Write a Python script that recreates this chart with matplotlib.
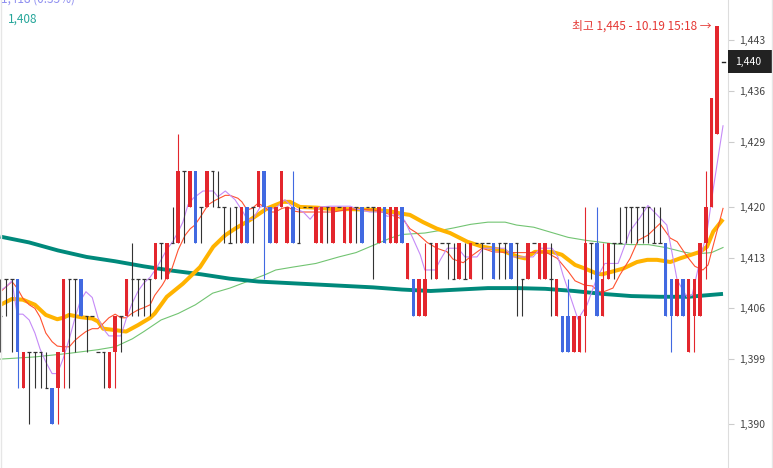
import matplotlib.pyplot as plt
from matplotlib.patches import Rectangle
from matplotlib.lines import Line2D

plt.rcParams['font.family'] = ['Noto Sans CJK KR', 'DejaVu Sans']

## Candles, one value per bar from left to right
opens = [1405, 1410, 1410, 1410, 1395, 1400, 1400, 1400, 1395, 1395,
         1395, 1400, 1410, 1410, 1410, 1405, 1405, 1400, 1400, 1395,
         1400, 1405, 1405, 1410, 1410, 1410, 1410, 1410, 1415, 1410,
         1415, 1415, 1425, 1420, 1425, 1420, 1420, 1425, 1420, 1420,
         1415, 1420, 1415, 1420, 1420, 1420, 1425, 1420, 1415, 1420,
         1415, 1420, 1415, 1420, 1420, 1415, 1415, 1420, 1415, 1420,
         1415, 1415, 1420, 1420, 1420, 1420, 1415, 1420, 1415, 1415,
         1420, 1410, 1410, 1405, 1405, 1415, 1410, 1415, 1415, 1410,
         1410, 1410, 1410, 1415, 1415, 1415, 1415, 1415, 1415, 1415,
         1415, 1410, 1410, 1415, 1410, 1410, 1410, 1405, 1405, 1405,
         1400, 1400, 1405, 1415, 1415, 1405, 1410, 1415, 1415, 1420,
         1420, 1420, 1420, 1420, 1415, 1415, 1415, 1410, 1405, 1410,
         1400, 1405, 1405, 1415, 1420, 1430]
highs = [1410, 1410, 1410, 1410, 1400, 1400, 1400, 1400, 1400, 1395,
         1400, 1410, 1410, 1410, 1410, 1405, 1405, 1400, 1400, 1400,
         1405, 1405, 1410, 1415, 1410, 1410, 1410, 1415, 1415, 1415,
         1420, 1430, 1425, 1425, 1425, 1420, 1425, 1425, 1425, 1420,
         1420, 1420, 1420, 1420, 1420, 1425, 1425, 1420, 1420, 1425,
         1420, 1425, 1420, 1420, 1420, 1420, 1420, 1420, 1420, 1420,
         1420, 1420, 1420, 1420, 1420, 1420, 1420, 1420, 1420, 1420,
         1420, 1415, 1410, 1410, 1415, 1415, 1415, 1415, 1415, 1415,
         1415, 1415, 1415, 1415, 1415, 1415, 1415, 1415, 1415, 1415,
         1415, 1410, 1415, 1415, 1415, 1415, 1415, 1410, 1405, 1410,
         1405, 1405, 1420, 1415, 1420, 1415, 1415, 1415, 1420, 1420,
         1420, 1420, 1420, 1420, 1420, 1420, 1415, 1410, 1410, 1410,
         1410, 1410, 1415, 1425, 1435, 1445]
lows = [1400, 1405, 1400, 1395, 1395, 1390, 1395, 1395, 1395, 1390,
        1390, 1395, 1395, 1400, 1405, 1400, 1405, 1400, 1395, 1395,
        1395, 1400, 1405, 1405, 1405, 1405, 1405, 1410, 1410, 1410,
        1415, 1415, 1415, 1420, 1415, 1415, 1420, 1420, 1420, 1415,
        1415, 1415, 1415, 1415, 1415, 1420, 1410, 1415, 1415, 1420,
        1415, 1415, 1415, 1420, 1420, 1415, 1415, 1415, 1415, 1420,
        1415, 1415, 1415, 1415, 1420, 1410, 1415, 1415, 1415, 1415,
        1415, 1410, 1405, 1405, 1405, 1410, 1410, 1415, 1410, 1410,
        1410, 1410, 1410, 1415, 1410, 1415, 1410, 1410, 1410, 1410,
        1405, 1405, 1410, 1415, 1410, 1410, 1405, 1405, 1400, 1400,
        1400, 1400, 1400, 1410, 1405, 1405, 1410, 1410, 1415, 1415,
        1415, 1415, 1415, 1415, 1415, 1415, 1405, 1400, 1405, 1405,
        1400, 1400, 1405, 1410, 1420, 1430]
closes = [1405, 1410, 1410, 1400, 1400, 1400, 1400, 1400, 1395, 1390,
          1400, 1410, 1410, 1410, 1405, 1405, 1405, 1400, 1400, 1400,
          1405, 1405, 1410, 1410, 1410, 1410, 1410, 1415, 1415, 1415,
          1415, 1425, 1425, 1425, 1415, 1420, 1425, 1425, 1420, 1420,
          1415, 1420, 1420, 1415, 1420, 1425, 1420, 1415, 1420, 1425,
          1420, 1415, 1415, 1420, 1420, 1420, 1420, 1420, 1420, 1420,
          1420, 1420, 1420, 1415, 1420, 1420, 1420, 1415, 1420, 1420,
          1415, 1415, 1405, 1410, 1410, 1415, 1415, 1415, 1415, 1410,
          1415, 1410, 1415, 1415, 1415, 1415, 1410, 1415, 1415, 1410,
          1415, 1410, 1415, 1415, 1415, 1415, 1410, 1410, 1400, 1400,
          1405, 1405, 1415, 1415, 1405, 1410, 1415, 1415, 1415, 1420,
          1420, 1420, 1420, 1420, 1415, 1415, 1405, 1405, 1410, 1405,
          1410, 1410, 1415, 1420, 1435, 1445]

## Moving averages at the bar positions in *_x
teal_x = [0, 5, 10, 15, 20, 25, 30, 35, 40, 45, 50, 55, 60, 65, 70, 75, 80,
          85, 90, 95, 100, 105, 110, 115, 120, 126]
teal = [1415.9, 1415.1, 1414.0, 1413.1, 1412.5, 1411.8, 1411.2, 1410.7, 1410.1,
        1409.7, 1409.5, 1409.3, 1409.1, 1408.9, 1408.6, 1408.4, 1408.6, 1408.8,
        1408.8, 1408.7, 1408.4, 1408.0, 1407.7, 1407.6, 1407.6, 1408.0]

green_x = [0, 6, 12, 17, 20, 23, 25, 28, 31, 34, 37, 40, 43, 46, 48, 51, 55, 59,
           62, 65, 68, 70, 74, 77, 79, 82, 85, 88, 90, 93, 96, 99, 102, 104, 107,
           110, 113, 116, 119, 121, 124, 126]
green = [1399.0, 1399.3, 1399.8, 1400.3, 1400.7, 1401.8, 1402.8, 1404.4, 1405.3,
         1406.5, 1408.1, 1408.8, 1409.7, 1410.6, 1411.3, 1411.7, 1412.2, 1413.1,
         1413.7, 1414.7, 1415.7, 1416.2, 1416.4, 1416.8, 1417.1, 1417.6, 1417.9,
         1417.9, 1417.5, 1417.2, 1416.5, 1415.8, 1415.4, 1415.2, 1414.9, 1414.8,
         1414.8, 1414.4, 1413.8, 1413.5, 1413.7, 1414.4]

orange_x = [0, 2, 3.9, 6, 7.9, 9.9, 10.9, 12, 13.9, 16, 17, 17.9, 20, 21.9, 24,
            26.1, 26.9, 29, 31.8, 34.8, 37.1, 39.2, 40.9, 43.5, 46.5, 49.3, 50.5,
            52.2, 55.2, 58, 61, 65, 67.9, 69.7, 71.4, 73.7, 76.1, 78.4, 81.4,
            84.1, 87.1, 90.3, 91.5, 93.2, 96.2, 97.9, 100.2, 101.9, 104, 104.9,
            106.8, 108.6, 111, 112.8, 114.5, 116.8, 118.5, 122, 123.2, 124.3, 126]
orange = [1406.5, 1407.3, 1407.2, 1406.5, 1405.1, 1404.5, 1404.7, 1405.1, 1404.8,
          1404.6, 1404.2, 1403.2, 1403.0, 1402.8, 1403.7, 1404.7, 1405.3, 1407.6,
          1409.4, 1411.7, 1414.5, 1416.1, 1417.0, 1418.2, 1419.8, 1420.7, 1420.7,
          1420.0, 1419.9, 1419.7, 1419.7, 1419.6, 1419.4, 1419.1, 1418.9, 1417.9,
          1417.0, 1416.4, 1415.2, 1414.5, 1414.1, 1413.1, 1412.9, 1413.8, 1413.8,
          1413.4, 1412.0, 1411.5, 1410.8, 1410.7, 1411.1, 1411.5, 1412.4, 1412.7,
          1412.7, 1412.4, 1412.9, 1413.8, 1414.5, 1416.6, 1418.3]

red_x = [0, 2, 2.9, 3.9, 5, 6, 6.9, 7.9, 9, 9.9, 10.9, 12, 13, 13.9, 14.9, 16, 17,
         17.9, 18.9, 20, 21, 21.9, 22.9, 24, 25, 26.1, 26.9, 28.2, 29.9, 31, 32.2,
         33.1, 33.9, 35.1, 36.2, 37.4, 39.2, 40, 41.4, 42.1, 43, 43.9, 44.9, 46.1,
         47, 47.9, 49.1, 50.1, 51.4, 52.2, 55.2, 58, 61, 65, 67.4, 70.2, 71.4,
         72.6, 74.4, 76.1, 77.9, 78.9, 80.7, 81.9, 84, 85.9, 89.2, 92, 95, 97.1,
         99, 100.2, 101.9, 103.2, 104, 104.9, 106.8, 108, 109.8, 111.2, 112.9,
         115, 116.8, 118, 119.7, 121.1, 122.5, 123.4, 124.3, 125, 126]
red = [1408.3, 1409.7, 1408.8, 1407.4, 1406.5, 1406.0, 1404.8, 1402.6, 1401.4,
       1400.8, 1400.7, 1400.7, 1401.6, 1402.2, 1402.8, 1403.2, 1403.2, 1403.9,
       1404.7, 1405.2, 1404.7, 1404.7, 1405.3, 1405.8, 1406.1, 1406.5, 1407.8,
       1409.2, 1411.5, 1414.1, 1416.1, 1417.0, 1417.5, 1418.9, 1420.3, 1420.9,
       1421.6, 1421.6, 1421.2, 1420.7, 1419.6, 1419.8, 1420.5, 1420.0, 1419.3,
       1419.3, 1419.8, 1420.0, 1419.4, 1419.3, 1419.3, 1419.3, 1419.7, 1419.6,
       1419.1, 1418.3, 1417.0, 1416.4, 1415.1, 1414.3, 1413.8, 1412.8, 1412.3,
       1413.1, 1414.3, 1413.8, 1413.7, 1413.7, 1413.8, 1412.9, 1411.1, 1409.8,
       1409.2, 1409.1, 1408.5, 1408.2, 1408.8, 1410.6, 1412.9, 1415.4, 1416.1,
       1417.7, 1415.7, 1415.2, 1413.2, 1411.8, 1411.3, 1412.0, 1414.7, 1416.8,
       1419.8]

purple_x = [0, 1, 2, 2.9, 3.9, 5, 6, 6.9, 7.9, 9, 9.9, 10.9, 12, 13, 13.9, 14.9,
            16, 17, 17.9, 18.9, 20, 21, 21.9, 22.9, 24, 25, 26.1, 27.3, 29, 30.1,
            31, 31.8, 32.7, 33.6, 35.3, 37.1, 37.9, 39.2, 40.9, 42.3, 43, 44, 45.3,
            46.1, 47, 48.2, 49.6, 51, 52.8, 54, 55.7, 57.5, 61, 62.2, 64.4, 66.7,
            67.4, 69.2, 70.5, 71.9, 73.2, 74, 75.8, 76.7, 77.9, 79.8, 81, 83.1,
            84.2, 88, 89.2, 92.9, 94.1, 96.2, 97.2, 98.1, 99.3, 100.7, 102.3, 104,
            105.4, 107.7, 109.8, 111.5, 112.9, 115, 116.2, 118, 119.7, 120.6, 122,
            123.2, 124.3, 126]
purple = [1408.5, 1409.0, 1409.8, 1405.2, 1405.2, 1404.4, 1402.6, 1400.4, 1398.6,
          1397.0, 1397.0, 1399.0, 1401.8, 1404.7, 1407.0, 1408.3, 1407.5, 1404.7,
          1403.2, 1402.2, 1402.2, 1402.2, 1404.5, 1406.6, 1408.4, 1409.5, 1410.3,
          1411.7, 1414.1, 1415.3, 1416.6, 1417.9, 1420.3, 1421.2, 1422.2, 1422.2,
          1421.4, 1422.2, 1421.0, 1419.3, 1418.3, 1418.3, 1420.0, 1420.1, 1419.6,
          1420.0, 1421.0, 1419.9, 1419.3, 1418.3, 1420.0, 1420.1, 1420.1, 1419.7,
          1419.3, 1419.3, 1418.7, 1419.0, 1418.1, 1415.7, 1413.4, 1411.3, 1411.3,
          1412.7, 1414.3, 1414.3, 1413.1, 1413.1, 1414.3, 1414.3, 1413.1, 1413.1,
          1414.3, 1414.3, 1413.1, 1410.6, 1407.8, 1404.5, 1406.5, 1410.2, 1412.2,
          1412.2, 1416.7, 1418.5, 1420.2, 1418.5, 1417.5, 1409.9, 1407.6, 1407.8,
          1412.7, 1416.5, 1422.5, 1431.2]

y_ticks = [1390, 1399, 1406, 1413, 1420, 1429, 1436, 1443]
last_price = 1440
high_price = 1445
high_text = '최고 1,445 - 10.19 15:18 →'
teal_label = '1,408'
top_label = '1,418 (0.35%)'

fig = plt.figure(figsize=(7.73, 4.68), dpi=100)
ax = fig.add_axes([0, 0, 728 / 773, 1])
ax.set_xlim(-0.087, 126.87)
ax.set_ylim(1383.97, 1448.56)

# Moving averages behind the candles
ax.plot(green_x, green, color='#72c472', lw=0.8, zorder=2)
ax.plot(teal_x, teal, color='#00897b', lw=2.8, zorder=2, solid_capstyle='butt')
ax.plot(orange_x, orange, color='#ffb300', lw=2.9, zorder=2, solid_capstyle='butt')
ax.plot(red_x, red, color='#ff5230', lw=0.8, zorder=2)
ax.plot(purple_x, purple, color='#c58af7', lw=0.8, zorder=2)

# Candles: red up, blue down, black when open == close
w = 0.62
for i in range(len(opens)):
    o, h, l, c = opens[i], highs[i], lows[i], closes[i]
    if c > o:
        col = '#e3262d'
    elif c < o:
        col = '#4169e1'
    else:
        col = '#333333'
    if h > l:
        ax.vlines(i, l, h, color=col, lw=0.8, zorder=3)
    if c == o:
        ax.hlines(o, i - w / 2, i + w / 2, color=col, lw=0.9, zorder=3)
    else:
        ax.bar(i, c - o, bottom=o, width=w, color=col, linewidth=0, zorder=4)

# Right price axis
for s in ['top', 'left', 'bottom']:
    ax.spines[s].set_visible(False)
ax.spines['right'].set_color('#dddddd')
ax.set_xticks([])
ax.yaxis.tick_right()
ax.set_yticks(y_ticks)
ax.set_yticklabels([f'{v:,}' for v in y_ticks])
ax.tick_params(axis='y', length=4, width=0.8, color='#cccccc', labelsize=7.5,
               labelcolor='#444444', pad=4)

# Current price box
ytr = ax.get_yaxis_transform()
ax.add_patch(Rectangle((1.0, last_price - 1.55), 45 / 728, 3.15, transform=ytr,
                       facecolor='#222222', edgecolor='none', clip_on=False, zorder=5))
ax.text(1.0 + 7 / 728, last_price, f'{last_price:,}', transform=ytr, color='white',
        fontsize=7.5, va='center', ha='left', zorder=6)
ax.plot([125.8, 126.3], [last_price, last_price], color='#222222', lw=1, clip_on=False)

# High annotation
ax.annotate(high_text, xy=(len(opens) - 1, high_price), xytext=(-6, 0),
            textcoords='offset pixels', ha='right', va='center',
            color='#e53935', fontsize=8.5)

fig.text(8 / 773, 1 - 19 / 468, teal_label, color='#26a69a', fontsize=8.5, va='center')
# the series header sits half outside the top edge, as in the source screenshot
fig.text(1 / 773, 1 + 1 / 468, top_label, color='#8e8ef0', fontsize=8.5, va='center')

fig.add_artist(Line2D([0.5 / 773, 0.5 / 773], [0, 1], color='#e6e6e6', lw=1))
fig.add_artist(Line2D([772 / 773, 772 / 773], [0, 1], color='#e6e6e6', lw=1))

fig.savefig('out.png', dpi=100)
